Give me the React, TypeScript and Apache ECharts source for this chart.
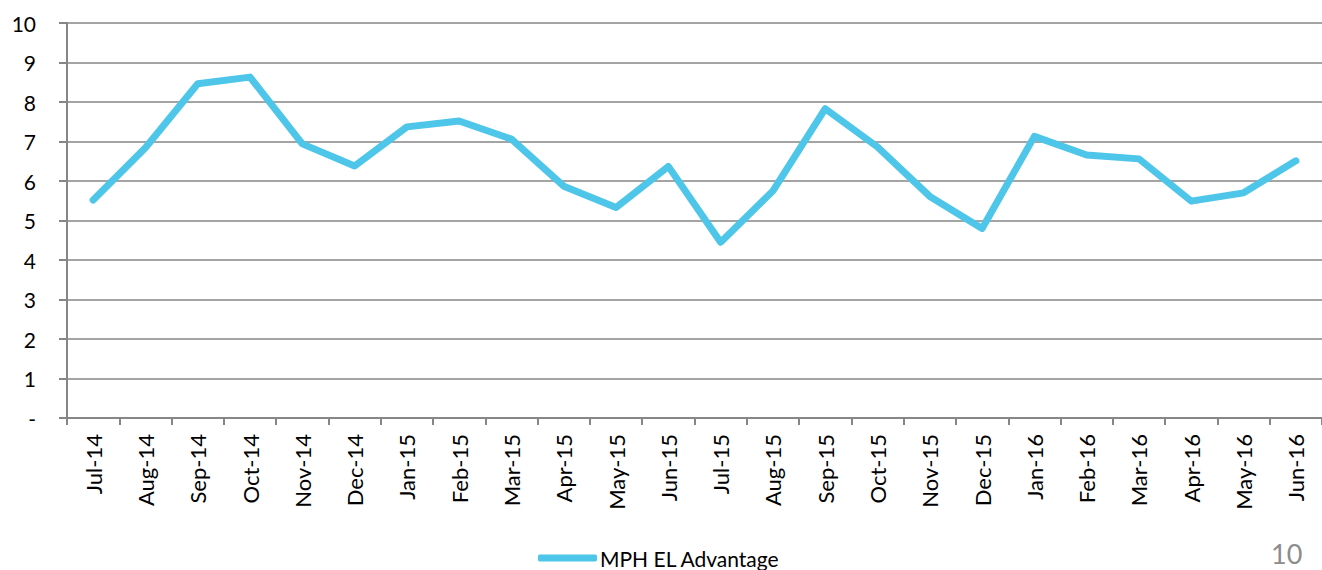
import React, { useEffect, useRef } from "react";
import * as echarts from "echarts";

const categories = [
  "Jul-14", "Aug-14", "Sep-14", "Oct-14", "Nov-14", "Dec-14",
  "Jan-15", "Feb-15", "Mar-15", "Apr-15", "May-15", "Jun-15",
  "Jul-15", "Aug-15", "Sep-15", "Oct-15", "Nov-15", "Dec-15",
  "Jan-16", "Feb-16", "Mar-16", "Apr-16", "May-16", "Jun-16",
];
const advantage = [
  5.52, 6.84, 8.46, 8.63, 6.94, 6.38,
  7.37, 7.52, 7.06, 5.87, 5.33, 6.37,
  4.45, 5.75, 7.83, 6.86, 5.61, 4.8,
  7.13, 6.66, 6.56, 5.49, 5.7, 6.51,
];
const seriesName = "MPH EL Advantage";
const pageNumber = "10";

const FONT = "Lato, 'Open Sans', sans-serif";

export default function App() {
  const ref = useRef<HTMLDivElement>(null);
  useEffect(() => {
    if (!ref.current) return;
    const chart = echarts.init(ref.current, null, { renderer: "svg" });
    chart.setOption({
      animation: false,
      backgroundColor: "#ffffff",
      grid: { left: 67, right: 0, top: 23, bottom: 152, containLabel: false },
      legend: {
        data: [{ name: seriesName, icon: "roundRect" }],
        left: 538,
        top: 546,
        itemWidth: 59,
        itemHeight: 7,
        itemGap: 4,
        padding: 0,
        textStyle: { fontFamily: FONT, fontSize: 21, color: "#000", lineHeight: 24, padding: [0, 0, 0, -2] },
      },
      xAxis: {
        type: "category",
        data: categories,
        boundaryGap: true,
        axisLine: { lineStyle: { color: "#868686", width: 2 } },
        axisTick: { show: true, length: 7, lineStyle: { color: "#868686", width: 2 } },
        axisLabel: {
          rotate: 90,
          interval: 0,
          margin: 16,
          fontFamily: FONT,
          fontSize: 22,
          color: "#000",
        },
      },
      yAxis: {
        type: "value",
        min: 0,
        max: 10,
        interval: 1,
        axisLine: { show: true, lineStyle: { color: "#868686", width: 2 } },
        axisTick: { show: true, length: 8, lineStyle: { color: "#868686", width: 2 } },
        splitLine: { show: true, lineStyle: { color: "#868686", width: 1.5 } },
        axisLabel: {
          margin: 31,
          fontFamily: FONT,
          fontSize: 21,
          color: "#000",
          formatter: (v: number) => (v === 0 ? "-" : String(v)),
        },
      },
      series: [
        {
          name: seriesName,
          type: "line",
          data: advantage,
          showSymbol: false,
          symbol: "none",
          lineStyle: { color: "#4DC6E9", width: 7, join: "round", cap: "round" },
          itemStyle: { color: "#4DC6E9" },
        },
      ],
      graphic: [
        {
          type: "text",
          left: 1271,
          top: 540,
          style: {
            text: pageNumber,
            fontFamily: FONT,
            fontSize: 27,
            fill: "#8C8C8C",
          },
        },
      ],
    });
    return () => chart.dispose();
  }, []);
  return (
    <div
      ref={ref}
      style={{ position: "absolute", left: 0, top: 0, width: 1322, height: 570 }}
    />
  );
}
